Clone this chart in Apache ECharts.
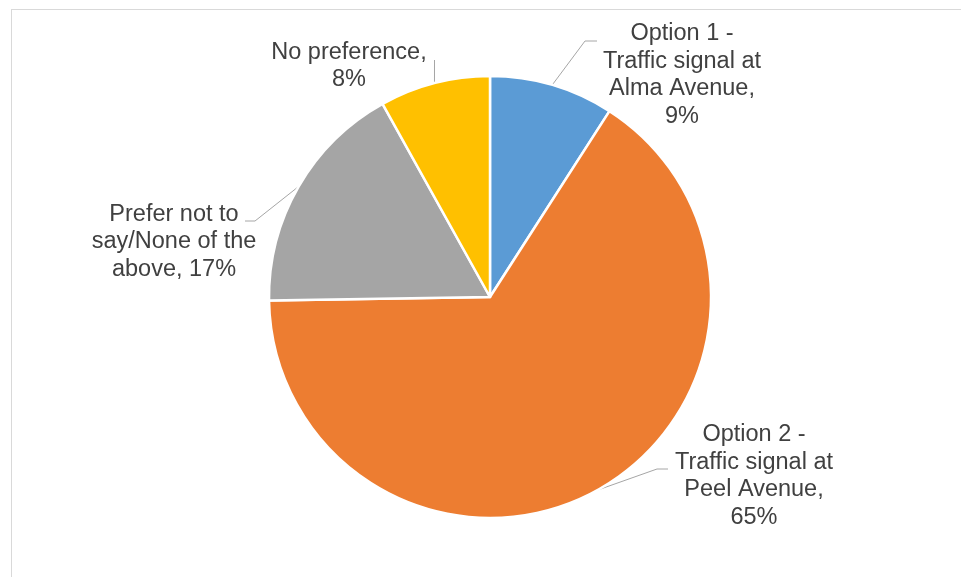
<!DOCTYPE html>
<html>
<head>
<meta charset="utf-8">
<script src="https://cdn.jsdelivr.net/npm/echarts@6/dist/echarts.min.js"></script>
<style>
html,body{margin:0;padding:0;background:#fff;}
#chart{width:961px;height:577px;}
</style>
</head>
<body>
<div id="chart"></div>
<script>
const categories = [
  'Option 1 -\nTraffic signal at\nAlma Avenue,',
  'Option 2 -\nTraffic signal at\nPeel Avenue,',
  'Prefer not to\nsay/None of the\nabove,',
  'No preference,'
];
const values = [9, 65, 17, 8];
const colors = ['#5B9BD5', '#ED7D31', '#A5A5A5', '#FFC000'];

// label block centres and leader elbows (layout only)
const labelPos = [
  {x: 682, y: 75},
  {x: 754, y: 476},
  {x: 174, y: 242},
  {x: 349, y: 66}
];
const leaderElbows = [
  [[585, 41], [597, 41]],
  [[657, 469], [668, 469]],
  [[255, 221], [245, 221]],
  [[434.5, 60], [434.5, 60]]
];

const chart = echarts.init(document.getElementById('chart'), null, {renderer: 'canvas'});
chart.setOption({
  animation: false,
  backgroundColor: '#fff',
  graphic: [
    {type: 'line', shape: {x1: 11.5, y1: 9, x2: 11.5, y2: 577}, style: {stroke: '#d9d9d9', lineWidth: 1}},
    {type: 'line', shape: {x1: 11, y1: 9.5, x2: 961, y2: 9.5}, style: {stroke: '#d9d9d9', lineWidth: 1}}
  ],
  series: [{
    type: 'pie',
    center: [490, 297],
    radius: 221,
    startAngle: 90,
    clockwise: true,
    data: categories.map((c, i) => ({
      name: c,
      value: values[i],
      itemStyle: {color: colors[i]}
    })),
    itemStyle: {borderColor: '#fff', borderWidth: 2.5},
    label: {
      show: true,
      position: 'outside',
      formatter: p => (p.dataIndex === 3 ? p.name + '\n' : p.name + (p.dataIndex === 2 ? ' ' : '\n')) + p.value + '%',
      fontFamily: 'Liberation Sans, Arial, sans-serif',
      fontSize: 23.5,
      lineHeight: 27.5,
      color: '#404040',
      align: 'center'
    },
    labelLine: {
      show: true,
      length: 20,
      length2: 10,
      lineStyle: {color: '#a6a6a6', width: 1}
    },
    labelLayout: params => {
      const i = params.dataIndex;
      const p = labelPos[i];
      const res = {x: p.x, y: p.y, align: 'center', verticalAlign: 'middle'};
      if (params.labelLinePoints && params.labelLinePoints[0]) {
        const p0 = params.labelLinePoints[0];
        res.labelLinePoints = [[p0[0], p0[1]], leaderElbows[i][0], leaderElbows[i][1]];
      }
      return res;
    }
  }]
});
</script>
</body>
</html>
